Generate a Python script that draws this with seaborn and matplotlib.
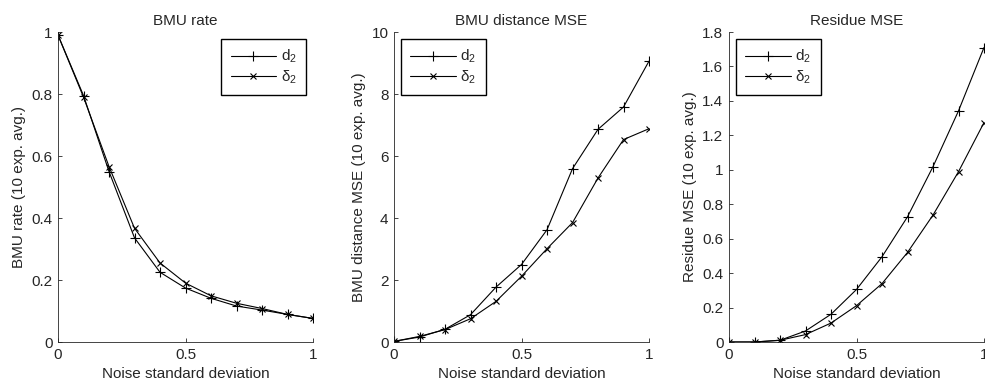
import numpy as np
import pandas as pd
import seaborn as sns
import matplotlib
matplotlib.use("Agg")
import matplotlib.pyplot as plt
from matplotlib.ticker import FuncFormatter

# values
noise = [0.0, 0.1, 0.2, 0.3, 0.4, 0.5, 0.6, 0.7, 0.8, 0.9, 1.0]

bmu_rate_d2 = [0.99, 0.795, 0.55, 0.336, 0.225, 0.174, 0.141, 0.116, 0.103, 0.089, 0.076]
bmu_rate_delta2 = [0.99, 0.79, 0.566, 0.367, 0.255, 0.19, 0.149, 0.125, 0.108, 0.089, 0.076]

bmu_dist_d2 = [0.02, 0.16, 0.41, 0.88, 1.77, 2.5, 3.62, 5.59, 6.86, 7.58, 9.06]
bmu_dist_delta2 = [0.02, 0.18, 0.40, 0.75, 1.31, 2.12, 3.01, 3.85, 5.29, 6.53, 6.88]

residue_d2 = [0.0, 0.0, 0.01, 0.064, 0.161, 0.305, 0.495, 0.727, 1.018, 1.342, 1.71]
residue_delta2 = [0.0, 0.0, 0.01, 0.043, 0.11, 0.211, 0.339, 0.52, 0.737, 0.989, 1.274]

titles = ["BMU rate", "BMU distance MSE", "Residue MSE"]
ylabels = ["BMU rate (10 exp. avg.)", "BMU distance MSE (10 exp. avg.)",
           "Residue MSE (10 exp. avg.)"]
yticks = [[0, 0.2, 0.4, 0.6, 0.8, 1],
          [0, 2, 4, 6, 8, 10],
          [0, 0.2, 0.4, 0.6, 0.8, 1, 1.2, 1.4, 1.6, 1.8]]
series = [(bmu_rate_d2, bmu_rate_delta2),
          (bmu_dist_d2, bmu_dist_delta2),
          (residue_d2, residue_delta2)]

sns.set_style("ticks")
plt.rcParams["font.family"] = ["Liberation Sans", "DejaVu Sans"]
plt.rcParams["mathtext.fontset"] = "custom"
plt.rcParams["mathtext.rm"] = "Liberation Sans"
plt.rcParams["mathtext.it"] = "Liberation Sans:italic"
plt.rcParams["mathtext.default"] = "regular"
plt.rcParams["font.size"] = 11
plt.rcParams["xtick.direction"] = "in"
plt.rcParams["ytick.direction"] = "in"

fig = plt.figure(figsize=(9.85, 3.87), dpi=100)
lefts = [58 / 985, 394 / 985, 729 / 985]
legend_loc = ["upper right", "upper left", "upper left"]
fmt = FuncFormatter(lambda v, p: "%g" % v)

for i in range(3):
    ax = fig.add_axes([lefts[i], 45 / 387, 255 / 985, 310 / 387])
    d2, delta2 = series[i]
    df = pd.DataFrame({"noise": noise, "d2": d2, "delta2": delta2})
    sns.lineplot(data=df, x="noise", y="d2", ax=ax, color="k", lw=0.8,
                 marker="+", ms=6.5, mec="k", mew=0.8, label=r"d$_2$")
    sns.lineplot(data=df, x="noise", y="delta2", ax=ax, color="k", lw=0.8,
                 marker="x", ms=5, mec="k", mew=0.8, label=r"$\delta_2$")
    ax.set_xlim(0, 1)
    ax.set_ylim(yticks[i][0], yticks[i][-1])
    ax.set_xticks([0, 0.5, 1])
    ax.set_yticks(yticks[i])
    ax.xaxis.set_major_formatter(fmt)
    ax.yaxis.set_major_formatter(fmt)
    ax.tick_params(length=3, width=0.6, labelsize=11, pad=4)
    for s in ["left", "bottom"]:
        ax.spines[s].set_linewidth(0.6)
    sns.despine(ax=ax)
    ax.set_title(titles[i], fontsize=11, pad=5)
    ax.set_xlabel("Noise standard deviation", fontsize=11, labelpad=4)
    ax.set_ylabel(ylabels[i], fontsize=11, labelpad=4)
    leg = ax.legend(loc=legend_loc[i], fancybox=False, edgecolor="k",
                    fontsize=11, handlelength=3.0, borderaxespad=0.45,
                    labelspacing=0.2, borderpad=0.6, handletextpad=0.3,
                    framealpha=1)
    leg.get_frame().set_linewidth(1.0)

fig.savefig("out.png", dpi=100)
